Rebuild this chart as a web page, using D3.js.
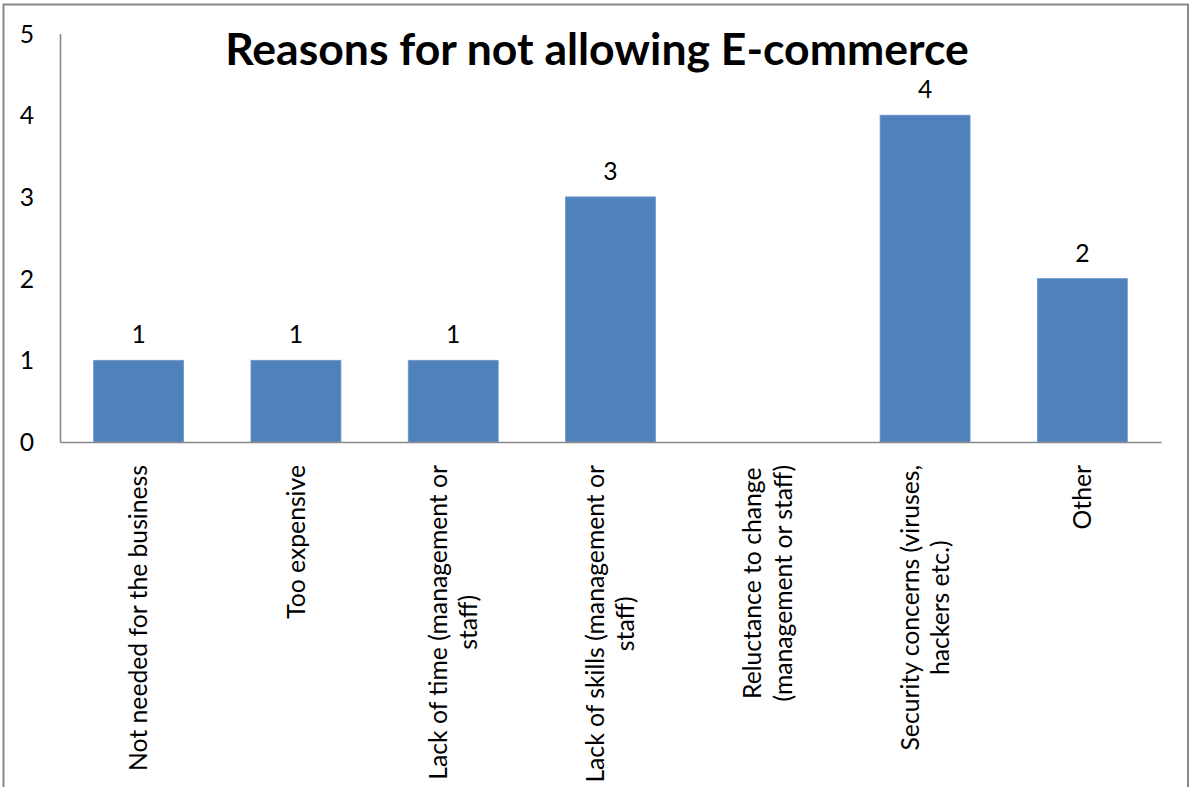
<!DOCTYPE html>
<html>
<head>
<meta charset="utf-8">
<script src="https://cdn.jsdelivr.net/npm/d3@7"></script>
<style>
  html, body { margin: 0; padding: 0; background: #fff; }
  svg { display: block; }
  text { font-family: Lato, "Open Sans", sans-serif; fill: #000; }
</style>
</head>
<body>
<svg id="chart" width="1190" height="787"></svg>
<script>
// Survey results: reasons for not allowing e-commerce
const title = "Reasons for not allowing E-commerce";
const categories = [
  "Not needed for the business",
  "Too expensive",
  "Lack of time (management or staff)",
  "Lack of skills (management or staff)",
  "Reluctance to change (management or staff)",
  "Security concerns (viruses, hackers etc.)",
  "Other"
];
// Wrapped lines for each category label
const categoryLines = [
  ["Not needed for the business"],
  ["Too expensive"],
  ["Lack of time (management or", "staff)"],
  ["Lack of skills (management or", "staff)"],
  ["Reluctance to change", "(management or staff)"],
  ["Security concerns (viruses,", "hackers etc.)"],
  ["Other"]
];
const counts = [1, 1, 1, 3, 0, 4, 2];
const yTicks = [0, 1, 2, 3, 4, 5];

const svg = d3.select("#chart");
const W = 1190, H = 787;
const margin = { left: 60, right: 29, top: 33.5, bottom: 345 };

// Pick a font size so that a string renders at a given width
function fitSize(str, weight, target) {
  const t = svg.append("text").attr("font-size", 100).attr("font-weight", weight).text(str);
  const w = t.node().getComputedTextLength();
  t.remove();
  return 100 * target / w;
}
const labelSize = fitSize(categories[0], 400, 306);
const titleSize = fitSize(title, 700, 744);

// Outer chart frame
svg.append("rect")
  .attr("x", 3.5).attr("y", 4.5)
  .attr("width", 1184.5).attr("height", H + 20)
  .attr("fill", "#fff").attr("stroke", "#898989").attr("stroke-width", 2);

const x = d3.scaleBand()
  .domain(categories)
  .range([margin.left, W - margin.right])
  .paddingInner(0.428)
  .paddingOuter(0.214);

const y = d3.scaleLinear()
  .domain([0, 5])
  .range([H - margin.bottom, margin.top]);

// Bars
svg.append("g").selectAll("rect")
  .data(categories)
  .join("rect")
  .attr("x", d => x(d))
  .attr("width", x.bandwidth())
  .attr("y", (d, i) => y(counts[i]))
  .attr("height", (d, i) => y(0) - y(counts[i]))
  .attr("fill", "#4F81BD")
  .attr("stroke", "#6f98c9")
  .attr("stroke-width", 0.8);

// Value labels above non-zero bars
svg.append("g").selectAll("text")
  .data(categories.filter((d, i) => counts[i] > 0))
  .join("text")
  .attr("x", d => x(d) + x.bandwidth() / 2)
  .attr("y", d => y(counts[categories.indexOf(d)]) - 17)
  .attr("text-anchor", "middle")
  .attr("font-size", labelSize)
  .text(d => counts[categories.indexOf(d)]);

// Y axis
const yAxis = svg.append("g")
  .attr("transform", `translate(${margin.left},0)`)
  .call(d3.axisLeft(y).tickValues(yTicks).tickFormat(d3.format("d")).tickSize(0).tickSizeOuter(0).tickPadding(26));
yAxis.select(".domain").attr("stroke", "#898989").attr("stroke-width", 1.6);
yAxis.selectAll(".tick text")
  .attr("font-size", labelSize)
  .attr("font-family", "Lato, 'Open Sans', sans-serif")
  .attr("fill", "#000")
  .attr("dy", "0.35em");

// X axis with rotated, wrapped category labels
const xAxis = svg.append("g")
  .attr("transform", `translate(0,${y(0)})`)
  .call(d3.axisBottom(x).tickSize(0).tickSizeOuter(0).tickFormat(""));
xAxis.select(".domain").attr("stroke", "#898989").attr("stroke-width", 1.6);

const lineH = labelSize * 1.22;
xAxis.selectAll(".tick").each(function (d) {
  const i = categories.indexOf(d);
  const lines = categoryLines[i];
  const g = d3.select(this);
  const t = g.append("text")
    .attr("transform", "translate(0,23) rotate(-90)")
    .attr("font-size", labelSize)
    .attr("text-anchor", "middle")
    .attr("fill", "#000");
  const tsp = t.selectAll("tspan").data(lines).join("tspan").text(s => s);
  const widths = tsp.nodes().map(n => n.getComputedTextLength());
  const maxW = d3.max(widths);
  tsp.attr("x", -maxW / 2)
     .attr("y", (s, k) => (k - (lines.length - 1) / 2) * lineH)
     .attr("dy", "0.35em");
});

// Title
svg.append("text")
  .attr("x", 597)
  .attr("y", 65)
  .attr("text-anchor", "middle")
  .attr("font-size", titleSize)
  .attr("font-weight", 700)
  .text(title);
</script>
</body>
</html>
